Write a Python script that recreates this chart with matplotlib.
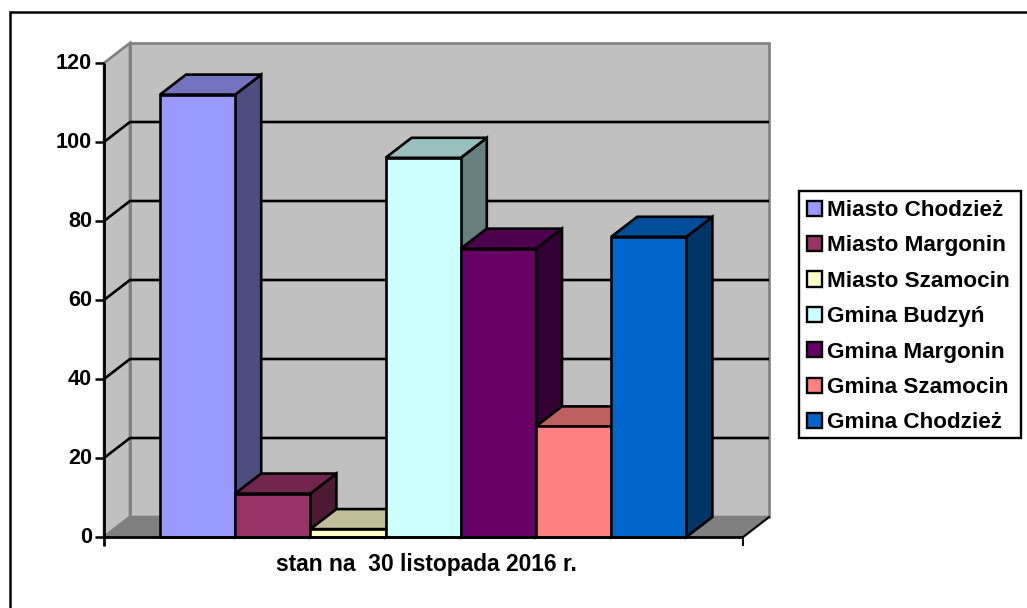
import matplotlib
matplotlib.use('Agg')
import matplotlib.pyplot as plt
from matplotlib.patches import Polygon, Patch, Rectangle

plt.rcParams['font.family'] = ['Liberation Sans', 'DejaVu Sans']
plt.rcParams['font.weight'] = 'bold'

# dane
gminy = ['Miasto Chodzież', 'Miasto Margonin', 'Miasto Szamocin', 'Gmina Budzyń',
         'Gmina Margonin', 'Gmina Szamocin', 'Gmina Chodzież']
wartosci = [112, 11, 2, 96, 73, 28, 76]
kolory = ['#9999FF', '#993366', '#FFFFCC', '#CCFFFF', '#660066', '#FF8080', '#0066CC']
kolory_gora = ['#7373BF', '#73264D', '#BFBF99', '#99BFBF', '#4D004D', '#BF6060', '#004D99']
kolory_bok = ['#4D4D80', '#4D1A33', '#808066', '#668080', '#330033', '#804040', '#003366']
y_ticks = [0, 20, 40, 60, 80, 100, 120]
podpis = 'stan na  30 listopada 2016 r.'

W, H = 1027, 608
fig = plt.figure(figsize=(W / 100, H / 100), dpi=100)

# ramka wokol wykresu - prawa i dolna krawedz poza obrazkiem
fig.add_artist(plt.Line2D([10 / W, 10 / W, 1], [0, 1 - 12 / H, 1 - 12 / H], transform=fig.transFigure,
                          color='black', linewidth=1.8, solid_joinstyle='miter'))

# os: 1 jednostka x = szerokosc slupka, y w wartosciach
bar_px = 75.2
y_px = 3.95
left, right, bottom, top = 104, 743, 537, 63
ax = fig.add_axes([left / W, 1 - bottom / H, (right - left) / W, (bottom - top) / H])
ax.set_xlim(0, (right - left) / bar_px)
ax.set_ylim(0, 120)
ax.axis('off')
xmax = (right - left) / bar_px
dx = 26 / bar_px  # glebokosc 3D
dy = 20 / y_px
start = (160 - left) / bar_px


def poly(pts, fc, ec='black', lw=1.9, z=2):
    ax.add_patch(Polygon(pts, closed=True, facecolor=fc, edgecolor=ec, linewidth=lw,
                         zorder=z, clip_on=False, joinstyle='miter'))


# sciany
poly([(dx, dy), (xmax + dx, dy), (xmax + dx, 120 + dy), (dx, 120 + dy)], '#C0C0C0', '#808080')
poly([(0, 0), (dx, dy), (dx, 120 + dy), (0, 120)], '#C0C0C0', '#808080')
poly([(0, 0), (xmax, 0), (xmax + dx, dy), (dx, dy)], '#808080', '#808080')

# siatka
for t in y_ticks[1:-1]:
    ax.plot([0, dx, xmax + dx], [t, t + dy, t + dy], color='black', lw=1.9, zorder=3, clip_on=False,
            solid_capstyle='butt')

# slupki
for i, v in enumerate(wartosci):
    x0 = start + i
    x1 = x0 + 1
    poly([(x1, 0), (x1 + dx, dy), (x1 + dx, v + dy), (x1, v)], kolory_bok[i], z=4 + i)
    poly([(x0, v), (x1, v), (x1 + dx, v + dy), (x0 + dx, v + dy)], kolory_gora[i], z=4 + i)
    poly([(x0, 0), (x1, 0), (x1, v), (x0, v)], kolory[i], z=4 + i)

# osie
ax.plot([0, 0], [-2.3, 120], color='black', lw=2.0, zorder=20, clip_on=False, solid_capstyle='butt')
ax.plot([0, xmax], [0, 0], color='black', lw=2.0, zorder=20, clip_on=False, solid_capstyle='butt')
ax.plot([xmax, xmax], [-2.3, 0], color='black', lw=1.4, zorder=20, clip_on=False, solid_capstyle='butt')
ax.plot([xmax, xmax + dx], [0, dy], color='black', lw=1.4, zorder=3, clip_on=False)
for t in y_ticks:
    ax.plot([-9 / bar_px, 0], [t, t], color='black', lw=1.8, zorder=20, clip_on=False, solid_capstyle='butt')
    ax.text(-12 / bar_px, t - 0.25, str(t), ha='right', va='center', fontsize=15.6, color='black')
ax.text((426 - left) / bar_px, -27.5 / y_px, podpis, ha='center', va='center', fontsize=16.4, color='black')

# legenda - ramka osobno, bo jest szersza niz sama legenda
fig.add_artist(Rectangle((799 / W, 1 - 438 / H), 222 / W, 247 / H, transform=fig.transFigure,
                         facecolor='white', edgecolor='black', linewidth=1.7))
uchwyty = [Patch(facecolor=k, edgecolor='black', linewidth=1.7) for k in kolory]
leg = fig.legend(uchwyty, gminy, loc='upper left', bbox_to_anchor=(799 / W, 1 - 192 / H),
                 borderaxespad=0, fontsize=16.2, frameon=False,
                 labelspacing=0.64, handlelength=0.66, handleheight=0.66, handletextpad=0.22,
                 borderpad=0.36)
leg.set_zorder(5)

plt.savefig('out.png', dpi=100)
